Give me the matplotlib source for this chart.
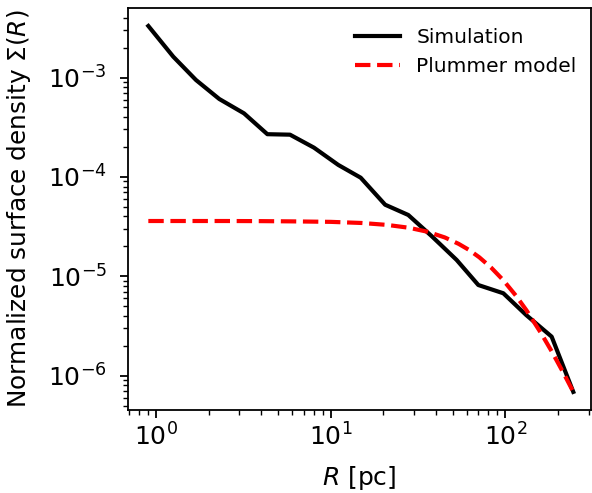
import matplotlib
matplotlib.use("Agg")
import matplotlib.pyplot as plt

# Simulation profile
sim_r = [0.904, 1.256, 1.694, 2.303, 3.19, 4.34, 5.85, 8.02, 11.05, 14.85, 20.5, 27.8,
         37.9, 52.6, 70.0, 97.3, 131.7, 184.0, 244.7]
sim_sigma = [3.30e-3, 1.62e-3, 9.44e-4, 6.08e-4, 4.36e-4, 2.69e-4, 2.66e-4, 1.97e-4,
             1.32e-4, 9.82e-5, 5.25e-5, 4.14e-5, 2.53e-5, 1.46e-5, 8.17e-6, 6.75e-6,
             4.07e-6, 2.47e-6, 6.87e-7]

# Plummer model curve
plum_r = [0.904, 1.5, 2.5, 4.0, 6.0, 10.0, 15.0, 21.0, 28.0, 36.0, 45.0, 54.0, 62.0,
          71.0, 83.0, 97.0, 115.0, 132.0, 160.0, 184.0, 215.0, 245.0]
plum_sigma = [3.60e-5, 3.60e-5, 3.60e-5, 3.59e-5, 3.57e-5, 3.53e-5, 3.44e-5, 3.29e-5,
              3.08e-5, 2.80e-5, 2.46e-5, 2.12e-5, 1.84e-5, 1.55e-5, 1.22e-5, 9.18e-6,
              6.37e-6, 4.55e-6, 2.68e-6, 1.76e-6, 1.065e-6, 6.85e-7]

fig = plt.figure(figsize=(5.92, 4.93), dpi=100)
ax = fig.add_axes([127.5 / 592, 1 - 409.5 / 493, 463 / 592, 401.2 / 493])

ax.plot(sim_r, sim_sigma, color="black", lw=3, label="Simulation")
ax.plot(plum_r, plum_sigma, color="red", lw=3, ls="--", label="Plummer model")

ax.set_xscale("log")
ax.set_yscale("log")
ax.set_xlim(0.687, 307)
ax.set_ylim(4.57e-7, 4.97e-3)

ax.set_xlabel("$R$ [pc]", fontsize=18)
ax.set_ylabel("Normalized surface density $\\Sigma(R)$", fontsize=17.8)
ax.xaxis.set_label_coords(0.5, -0.137)
ax.yaxis.set_label_coords(-0.2041, 0.5)
ax.tick_params(axis="both", which="major", labelsize=18, length=5.8, width=1.3)
ax.tick_params(axis="both", which="minor", length=3.4, width=1.0)
ax.tick_params(axis="x", which="major", pad=4.5)
ax.tick_params(axis="y", which="major", pad=9)
for s in ax.spines.values():
    s.set_linewidth(1.3)

ax.legend(loc="upper right", frameon=False, fontsize=14.5, handlelength=2.25,
          bbox_to_anchor=(1.0 + 4 / 463, 1.0 - 2 / 401))

fig.savefig("out.png", dpi=100)
